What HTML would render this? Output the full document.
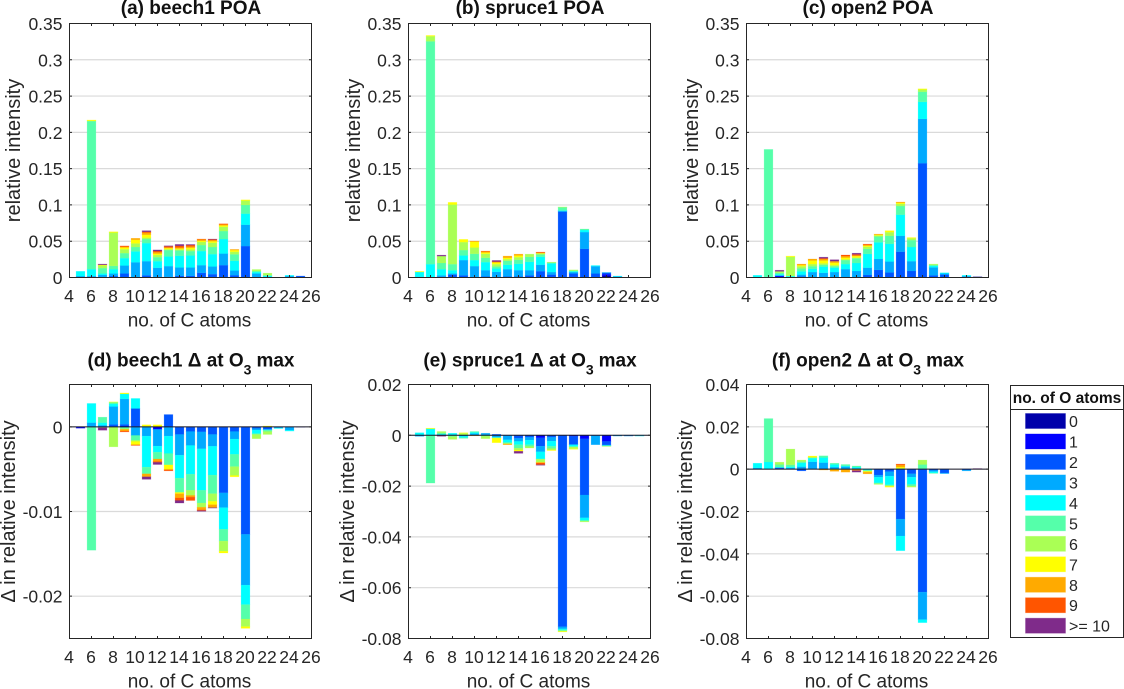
<!DOCTYPE html>
<html>
<head>
<meta charset="utf-8">
<title>Relative intensity by number of C atoms</title>
<style>
html,body{margin:0;padding:0;background:#fff;}
body{width:1124px;height:689px;overflow:hidden;}
svg{display:block;}
text{font-family:"Liberation Sans",Arial,sans-serif;fill:#262626;}
</style>
</head>
<body>
<svg id="figure" xmlns="http://www.w3.org/2000/svg" width="1124" height="689" viewBox="0 0 1124 689">
  <g id="panels"></g>
  <g id="legend">
    <rect x="1010.5" y="385.5" width="113" height="252" fill="#fff" stroke="#262626" stroke-width="1"/>
    <line x1="1010.5" x2="1123.5" y1="409.5" y2="409.5" stroke="#262626" stroke-width="1"/>
    <text x="1067" y="403" text-anchor="middle" font-size="15.5" font-weight="bold" style="fill:#111">no. of O atoms</text>
  </g>
</svg>
<script>
// Categories and tick labels
const carbonNumbers = [5,6,7,8,9,10,11,12,13,14,15,16,17,18,19,20,21,22,23,24,25];
const xTickLabels = [4,6,8,10,12,14,16,18,20,22,24,26];
const oxygenLabels = ['0','1','2','3','4','5','6','7','8','9','>= 10'];
const poaTicks = [0,0.05,0.1,0.15,0.2,0.25,0.3,0.35];
const beechDeltaTicks = [-0.02,-0.01,0];
const spruceDeltaTicks = [-0.08,-0.06,-0.04,-0.02,0,0.02];
const openDeltaTicks = [-0.08,-0.06,-0.04,-0.02,0,0.02,0.04];

// Each row is one C number. Keys are O-atom counts; each value is the
// cumulative stack edge reached through that O count (negatives stack downward).
const beech1Poa = [
  {3:.002,4:.0085},
  {2:.001,3:.002,4:.0115,5:.2155,6:.216,7:.217},
  {3:.0035,4:.0055,5:.013,6:.0165,7:.0175,10:.0185},
  {2:.002,3:.0055,4:.0115,5:.016,6:.062,7:.063},
  {2:.0055,3:.0165,4:.0267,5:.0336,6:.039,7:.0414,8:.0424,9:.0435},
  {2:.0005,3:.021,4:.036,5:.042,6:.047,7:.052,8:.054},
  {2:.003,3:.0225,4:.0474,5:.053,6:.055,7:.059,8:.062,9:.063,10:.0645},
  {2:.001,3:.0134,4:.0225,5:.028,6:.031,7:.033,8:.035,9:.0365,10:.038},
  {2:.001,3:.0157,4:.029,5:.0378,6:.039,7:.0405,8:.0415,9:.043,10:.0437},
  {2:.0023,3:.0138,4:.03,5:.0373,6:.0387,7:.04,8:.0414,9:.0437,10:.0456},
  {2:.0023,3:.0138,4:.0304,5:.0364,6:.0387,7:.041,8:.0428,9:.0447,10:.0455},
  {2:.0064,3:.017,4:.0364,5:.0447,6:.049,7:.0506,8:.0525,9:.053},
  {2:.0046,3:.0152,4:.0322,5:.042,6:.048,7:.05,8:.0516,9:.0525,10:.053},
  {2:.017,3:.033,4:.053,5:.064,6:.07,7:.0718,8:.0732,9:.074},
  {2:.0032,3:.0097,4:.023,5:.032,6:.0355,7:.0377,8:.0387},
  {2:.0433,3:.0727,4:.088,5:.1,6:.106,7:.107},
  {3:.0055,4:.0075,5:.009,6:.011},
  {3:.001,4:.0025,5:.003,6:.006},
  {},
  {3:.002,4:.003},
  {2:.002}
];
const spruce1Poa = [
  {3:.001,4:.0075,5:.0078,7:.0085},
  {4:.0184,5:.3255,6:.3325,7:.3335},
  {2:.001,3:.003,4:.0115,5:.02,6:.0295,10:.0308},
  {2:.004,3:.0055,4:.01,5:.0184,6:.1005,7:.1035},
  {2:.003,3:.024,4:.0304,5:.0378,6:.0488,7:.0525},
  {2:.001,3:.0157,4:.024,5:.0327,6:.0414,7:.0493,8:.0502},
  {2:.0015,3:.0101,4:.0212,5:.0272,6:.0327,7:.0345,8:.0359,9:.0364},
  {2:.001,3:.0078,4:.0124,5:.0152,6:.0184,7:.0207,8:.0216,9:.022,10:.0235},
  {2:.0015,3:.0115,4:.0175,5:.023,6:.0253,7:.0272,8:.0295},
  {2:.0015,3:.0101,4:.0189,5:.0244,6:.028,7:.0304,8:.0322},
  {2:.003,3:.0101,4:.0216,5:.0285,6:.0322},
  {1:.0005,2:.0087,3:.0175,4:.0285,5:.0318,6:.0331,7:.0336,8:.0342,9:.035},
  {2:.004,3:.0075,4:.0195,5:.0205,6:.0212},
  {2:.0905,3:.092,4:.0925,5:.0967,6:.0972},
  {1:.001,2:.0055,3:.0075,4:.0085,5:.0095,6:.0105},
  {2:.0395,3:.0626,4:.0654,5:.0668},
  {2:.0055,3:.0155,4:.0165},
  {0:.0025,1:.0045,2:.0065,3:.007},
  {3:.0015,4:.002},
  {},
  {}
];
const open2Poa = [
  {4:.003},
  {4:.001,5:.1765},
  {1:.002,2:.0025,3:.003,4:.0045,5:.0065,6:.0085,10:.01},
  {4:.002,6:.0285,7:.0295},
  {2:.0015,3:.004,4:.0085,5:.0125,6:.0155,7:.017,8:.0185},
  {3:.0075,4:.012,5:.0155,6:.0185,7:.0235,8:.0255},
  {3:.0065,4:.015,5:.0175,6:.0195,7:.0235,8:.0255,9:.0265,10:.028},
  {3:.0075,4:.0135,5:.0155,6:.017,7:.0205,8:.0225,10:.0245},
  {3:.0115,4:.0185,5:.024,6:.025,7:.0275,8:.0295,9:.031},
  {3:.009,4:.02,5:.0265,6:.0275,7:.0295,8:.0305,9:.032,10:.0335},
  {2:.0035,3:.0135,4:.0325,5:.0395,6:.0425,7:.044,8:.045,9:.046},
  {2:.0105,3:.0255,4:.0485,5:.0565,6:.058,7:.059,8:.0598},
  {2:.007,3:.022,4:.0465,5:.0575,6:.0625,7:.0645},
  {2:.0355,3:.0575,4:.0865,5:.0985,6:.1015,7:.103,8:.104},
  {2:.009,3:.0225,4:.042,5:.0515,6:.054,7:.055},
  {2:.1575,3:.2185,4:.242,5:.256,6:.259,7:.26},
  {2:.003,3:.014,4:.016,5:.0175,6:.0185},
  {2:.004,3:.0055,4:.0065},
  {},
  {2:.001,3:.002,4:.003},
  {3:.001,10:.0012}
];
const beech1Delta = [
  {1:-.00016},
  {3:.0005,4:.00276,5:-.01457},
  {3:.0002,4:.0005,5:.00114,6:-.0001,10:-.0004},
  {2:.00028,3:.0024,4:.0027,5:.0029,6:-.00236,7:.00295},
  {1:.0001,2:.0003,3:.0033,4:.0039,5:-.0002,6:-.0003,7:.004,8:-.0005,9:-.0006},
  {2:.00217,3:-.00102,4:.00335,5:-.0016,6:-.00173,7:-.0021,8:-.00215,9:-.0022},
  {3:-.0011,4:-.00476,5:-.00555,6:.0001,7:.00024,8:-.0059,10:-.0062},
  {1:-.0003,2:-.0003,3:-.00228,4:-.003,5:-.0038,7:.00024,8:-.0041,9:-.0042,10:-.00445},
  {2:.00145,3:-.0011,4:-.00315,5:-.0045,7:-.005,8:-.0051,9:-.0052},
  {2:-.0009,3:-.00335,4:-.00606,5:-.00775,7:-.0079,8:-.0084,9:-.0087,10:-.009},
  {2:-.00055,3:-.0022,4:-.0056,5:-.0075,6:-.0081,8:-.0083,9:-.0087},
  {2:-.0006,3:-.0026,4:-.0075,5:-.009,6:-.0095,8:-.0098,9:-.0099,10:-.00998},
  {2:-.0009,3:-.0023,4:-.0057,5:-.0079,6:-.0088,7:-.0092,8:-.00955,10:-.0096},
  {2:-.0078,3:-.00955,4:-.0121,5:-.0135,6:-.0147,7:-.0149},
  {2:-.00055,3:-.00145,4:-.00325,5:-.0047,6:-.00575,7:-.0059},
  {2:-.0127,3:-.0187,4:-.021,5:-.0227,6:-.0236,7:-.0238},
  {2:-.0002,3:-.0004,4:-.0008,5:-.0009,6:-.0014},
  {2:-.0003,3:-.00035,4:-.0004,5:-.00055,6:-.0009,7:.0001},
  {3:-.00015,4:-.0002},
  {3:-.0004,4:-.0005},
  {1:-.00003}
];
const spruce1Delta = [
  {3:-.0004,4:.001},
  {4:.0025,5:-.0188,6:.0027,7:.0028},
  {3:.0003,4:.0005,5:.001,6:.0015,10:-.0004},
  {3:.0003,4:.0008,5:-.0005,6:-.0016},
  {3:-.0004,4:-.0009,5:-.0012,6:.0008,7:.001},
  {3:.0007,4:.0012,5:.0015,8:-.0002},
  {2:.0002,3:.0008,5:-.0004,6:-.0013},
  {2:.0004,3:-.0008,4:-.001,6:-.0012,7:-.0029},
  {2:-.0002,3:-.0018,4:-.0028,5:-.0032,6:-.0034,8:-.0037},
  {1:-.0002,2:-.0012,3:-.0024,4:-.0037,5:-.0051,6:-.0058,7:-.0063,10:-.0071},
  {2:-.0008,3:-.0019,4:-.0037,5:-.0044,6:-.005},
  {1:-.001,2:-.0043,3:-.0065,4:-.0093,5:-.0094,6:-.0106,7:-.0108,9:-.0116,10:-.0118},
  {2:-.0008,3:-.0023,4:-.0043,5:-.0052,6:-.0058,7:-.006},
  {2:-.0754,3:-.0762,4:-.0766,5:-.077,6:-.0772,7:-.0774},
  {1:-.0004,2:-.0037,4:-.0045,6:-.0053,7:-.0055},
  {1:-.0014,2:-.0235,3:-.0325,4:-.0335,5:-.0338,6:-.0341},
  {2:-.0002,3:-.0037},
  {1:-.0024,2:-.0038,3:-.004,4:-.0041,5:-.0043,6:-.0044},
  {3:-.0003},
  {2:-.0002,3:-.0003},
  {3:-.0002,4:-.0003}
];
const open2Delta = [
  {3:.0006,4:.0028},
  {4:.0034,5:.0239},
  {1:.0004,2:.0006,3:.0008,4:.001,5:.0022,6:.0033},
  {3:.0006,4:.0012,5:.0021,6:.0095},
  {2:-.0008,3:.0012,4:.003,5:.0036,6:.0043},
  {2:.0002,3:.0035,4:.0052,5:.0055,6:.0056,7:.0062},
  {2:.0003,3:.0031,4:.0055,5:.0063,8:-.0004},
  {2:.0003,3:.001,4:.0023,5:.0028,7:-.0004,8:-.001},
  {2:.0002,3:.0012,4:.0016,5:.0022,7:-.0002,8:-.0014},
  {3:.0005,4:.001,5:.0015,8:-.0006,9:-.0007,10:-.0014},
  {4:-.0006,5:-.0008,6:-.0011,7:-.0014,8:-.0022},
  {2:-.0028,3:-.0038,4:-.0065,5:-.0069,6:-.0072},
  {2:-.0012,3:-.0033,4:-.0074,5:-.0078,6:-.0081,7:-.0085},
  {2:-.0236,3:-.0316,4:-.0385,6:.0005,7:.001,8:.002,9:.0024},
  {2:-.0022,3:-.0038,4:-.0072,5:-.008,6:-.0085},
  {2:-.0581,3:-.0711,4:-.0725,5:.0022,6:.0043},
  {2:-.0006,3:-.0012,4:-.0018,5:-.002},
  {2:-.0018,3:-.0021},
  {},
  {2:-.0004,3:-.0008},
  {10:.0003}
];

const oxygenColors = ['#0000aa','#0000ff','#0055ff','#00aaff','#00ffff','#55ffaa','#aaff55','#ffff00','#ffaa00','#ff5500','#7f2b8a'];

const NS = 'http://www.w3.org/2000/svg';
function make(tag, parent, props, text) {
  const el = document.createElementNS(NS, tag);
  for (const k in props) el.setAttribute(k, props[k]);
  if (text !== undefined) el.textContent = text;
  parent.appendChild(el);
  return el;
}
function fmt(v) {
  if (v === 0) return '0';
  return String(v);
}

const panelList = [
  {slug:'beech1-poa', title:'(a) beech1 POA', rows:beech1Poa, ticks:poaTicks, ymin:0, ymax:0.35, left:69.5, top:23.5, ylab:'relative intensity', ylabX:20, delta:false},
  {slug:'spruce1-poa', title:'(b) spruce1 POA', rows:spruce1Poa, ticks:poaTicks, ymin:0, ymax:0.35, left:408.5, top:23.5, ylab:'relative intensity', ylabX:360, delta:false},
  {slug:'open2-poa', title:'(c) open2 POA', rows:open2Poa, ticks:poaTicks, ymin:0, ymax:0.35, left:746.5, top:23.5, ylab:'relative intensity', ylabX:698, delta:false},
  {slug:'beech1-delta', title:'(d) beech1 Δ at O', rows:beech1Delta, ticks:beechDeltaTicks, ymin:-0.025, ymax:0.005, left:69.5, top:384.5, ylab:'Δ in relative intensity', ylabX:15, delta:true},
  {slug:'spruce1-delta', title:'(e) spruce1 Δ at O', rows:spruce1Delta, ticks:spruceDeltaTicks, ymin:-0.08, ymax:0.02, left:408.5, top:384.5, ylab:'Δ in relative intensity', ylabX:354, delta:true},
  {slug:'open2-delta', title:'(f) open2 Δ at O', rows:open2Delta, ticks:openDeltaTicks, ymin:-0.08, ymax:0.04, left:746.5, top:384.5, ylab:'Δ in relative intensity', ylabX:692, delta:true}
];

const plotW = 242, plotH = 254, xMin = 4, xMax = 26, barFrac = 0.8;
const panelsRoot = document.getElementById('panels');

panelList.forEach(function (p) {
  const xs = function (c) { return p.left + (c - xMin) / (xMax - xMin) * plotW; };
  const ys = function (v) { return p.top + (p.ymax - v) / (p.ymax - p.ymin) * plotH; };
  const bottom = p.top + plotH, right = p.left + plotW;

  const g = make('g', panelsRoot, {});
  
  

  // grid
  p.ticks.forEach(function (t) {
    if (t === p.ymin || t === p.ymax) return;
    const grid = make('line', g, {x1:p.left, x2:right, y1:ys(t), y2:ys(t), stroke:'#dadada', 'stroke-width':1.2});
    
    
  });

  // stacked bars
  p.rows.forEach(function (row, i) {
    const c = carbonNumbers[i];
    const bw = barFrac * (plotW / (xMax - xMin));
    let up = 0, down = 0;
    Object.keys(row).map(Number).forEach(function (o) {
      const v = row[o];
      let a, b;
      if (v >= 0) { a = up; b = v; up = v; } else { a = down; b = v; down = v; }
      const y0 = ys(Math.max(a, b)), y1 = ys(Math.min(a, b));
      const seg = make('rect', g, {x:xs(c) - bw / 2, y:y0, width:bw, height:Math.max(y1 - y0, 0.01), fill:oxygenColors[o], stroke:oxygenColors[o], 'stroke-width':0.6, 'stroke-opacity':0.35});
      
      
    });
  });

  // zero baseline for delta panels
  if (p.delta) {
    const zero = make('line', g, {x1:p.left, x2:right, y1:ys(0), y2:ys(0), stroke:'#1a1a2a', 'stroke-width':1});
    
    
  }

  // axes box
  const box = make('rect', g, {x:p.left, y:p.top, width:plotW, height:plotH, fill:'none', stroke:'#262626', 'stroke-width':1});
  
  

  // x ticks and labels
  xTickLabels.forEach(function (t) {
    const xp = xs(t);
    make('path', g, {d:'M' + xp + ' ' + bottom + 'v-2.5M' + xp + ' ' + p.top + 'v2.5', stroke:'#262626', 'stroke-width':1, fill:'none'});
    const lab = make('text', g, {x:xp - 0.5, y:bottom + 24.5, 'text-anchor':'middle', 'font-size':17.5}, String(t));
    
    
  });

  // y ticks and labels
  p.ticks.forEach(function (t) {
    const yp = ys(t);
    make('path', g, {d:'M' + p.left + ' ' + yp + 'h2.5M' + right + ' ' + yp + 'h-2.5', stroke:'#262626', 'stroke-width':1, fill:'none'});
    const lab = make('text', g, {x:p.left - 7, y:yp + 6.5, 'text-anchor':'end', 'font-size':17.5}, fmt(t));
    
    
  });

  // axis titles
  const xt = make('text', g, {x:p.left + plotW / 2 - 1, y:bottom + 49, 'text-anchor':'middle', 'font-size':19}, 'no. of C atoms');
  
  

  const yc = p.top + plotH / 2;
  const yt = make('text', g, {x:p.ylabX, y:yc, 'text-anchor':'middle', 'font-size':20, transform:'rotate(-90 ' + p.ylabX + ' ' + yc + ')'}, p.ylab);
  
  

  // chart title
  const title = make('text', g, {x:p.left + plotW / 2 + 0.5, y:p.top - (p.delta ? 18 : 9.5), 'text-anchor':'middle', 'font-size':19, 'font-weight':'bold'}, p.title);
  title.style.fill = '#111';
  
  
  if (p.delta) {
    make('tspan', title, {dy:8, 'font-size':14}, '3');
    make('tspan', title, {dy:-8, dx:5}, 'max');
  }
});

// legend entries
const legendRoot = document.getElementById('legend');
oxygenLabels.forEach(function (label, i) {
  const cy = 421 + i * 20.47;
  const swatch = make('rect', legendRoot, {x:1025.5, y:cy - 7.5, width:40, height:15, fill:oxygenColors[i], stroke:oxygenColors[i], 'stroke-width':0.8, 'stroke-opacity':0.4});
  
  
  const txt = make('text', legendRoot, {x:1069, y:cy + 6, 'font-size':16}, label);
  
  
});
</script>
</body>
</html>
